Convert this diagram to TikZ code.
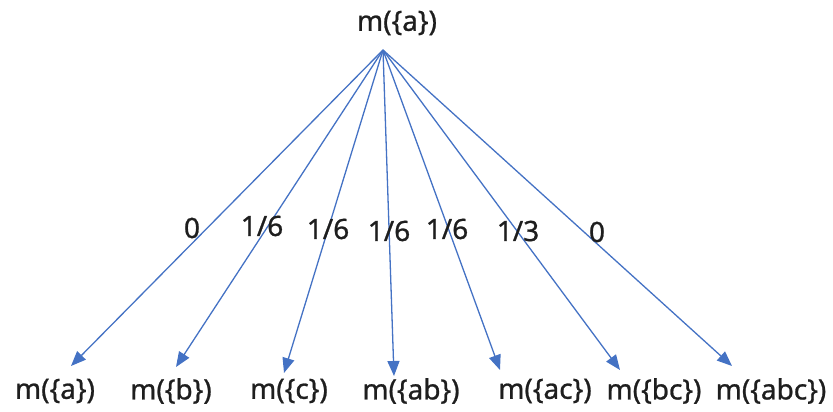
\documentclass[tikz,border=0pt]{standalone}
\usepackage{fontspec}
\setmainfont{Noto Sans}
\newfontfamily\lblfont{Noto Sans}[FakeBold=0.9]
\usetikzlibrary{arrows.meta}
\definecolor{lineblue}{RGB}{68,114,196}
\definecolor{txt}{RGB}{30,30,30}
\begin{document}
\begin{tikzpicture}[x=1pt,y=-1pt,
  lbl/.style={font=\lblfont\fontsize{28}{30}\selectfont, text=txt, inner sep=0pt, anchor=center},
  wt/.style={font=\lblfont\fontsize{28}{30}\selectfont, text=txt, inner sep=0pt, anchor=center},
  conn/.style={draw=lineblue, line width=1.3pt, -{Triangle[length=15pt,width=12pt]}}]
\useasboundingbox (0,0) rectangle (833,412);
\node[lbl] (top) at (397,23) {m(\{a\})};
\coordinate (apex) at (383,50);
\node[lbl] (b1) at (55,391) {m(\{a\})};
\node[lbl] (b2) at (171,391) {m(\{b\})};
\node[lbl] (b3) at (289,391) {m(\{c\})};
\node[lbl] (b4) at (411,391) {m(\{ab\})};
\node[lbl] (b5) at (545,391) {m(\{ac\})};
\node[lbl] (b6) at (654,391) {m(\{bc\})};
\node[lbl] (b7) at (771,391) {m(\{abc\})};
\coordinate (t1) at (71,366);
\coordinate (t2) at (176,367);
\coordinate (t3) at (284,373);
\coordinate (t4) at (394,376);
\coordinate (t5) at (500,370);
\coordinate (t6) at (620,370);
\coordinate (t7) at (732,366);
\foreach \i in {1,...,7} \draw[conn] (apex) -- (t\i);
\node[wt] (w1) at (192,228) {0};
\node[wt] (w2) at (262,226) {1/6};
\node[wt] (w3) at (328,229) {1/6};
\node[wt] (w4) at (389,231) {1/6};
\node[wt] (w5) at (447,229) {1/6};
\node[wt] (w6) at (518,231) {1/3};
\node[wt] (w7) at (597,232) {0};
\end{tikzpicture}
\end{document}
